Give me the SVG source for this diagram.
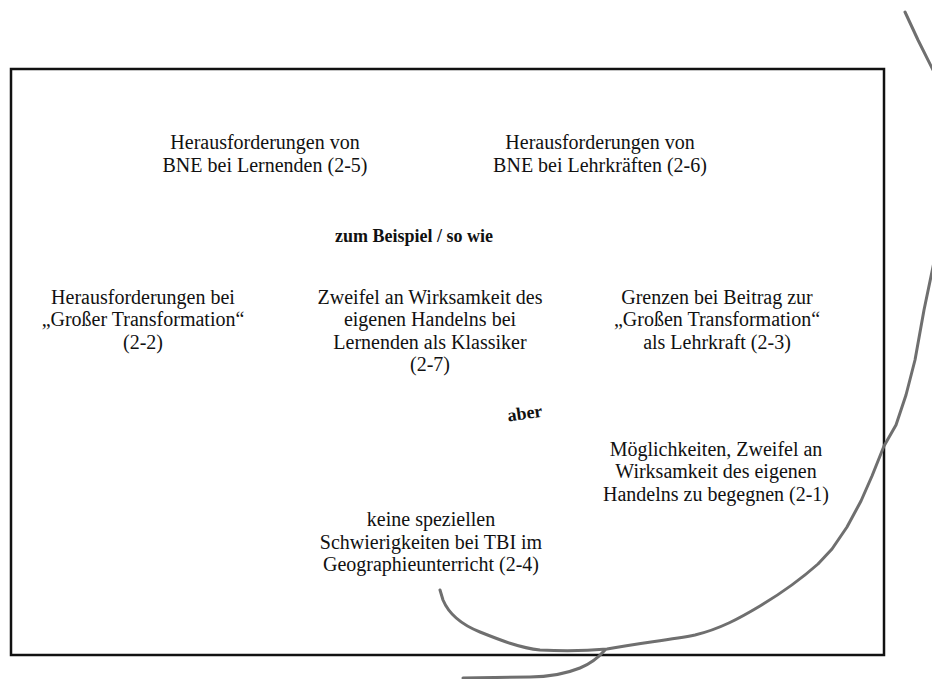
<svg xmlns="http://www.w3.org/2000/svg" width="932" height="679" viewBox="0 0 932 679">
  <style>
    .lbl { font-family: "Liberation Serif", "Times New Roman", serif; font-size: 20px; fill: #111; text-anchor: middle; }
    .rel { font-family: "Liberation Serif", "Times New Roman", serif; font-size: 18px; font-weight: bold; fill: #111; text-anchor: middle; }
    .ink { fill: none; stroke: #6f6f6f; stroke-width: 3; stroke-linecap: round; stroke-linejoin: round; }
  </style>
  <rect width="932" height="679" fill="#ffffff"/>
  <!-- frame -->
  <rect x="11" y="69" width="873" height="586" fill="none" stroke="#111" stroke-width="2.5"/>

  <g id="n2-5"><text class="lbl" x="265" y="149">Herausforderungen von</text><text class="lbl" x="265" y="172">BNE bei Lernenden (2-5)</text></g>
  <g id="n2-6"><text class="lbl" x="600" y="149">Herausforderungen von</text><text class="lbl" x="600" y="172">BNE bei Lehrkräften (2-6)</text></g>
  <g id="rel-bsp"><text class="rel" x="414" y="242">zum Beispiel / so wie</text></g>
  <g id="n2-2"><text class="lbl" x="143" y="304">Herausforderungen bei</text><text class="lbl" x="143" y="326">„Großer Transformation“</text><text class="lbl" x="143" y="349">(2-2)</text></g>
  <g id="n2-7"><text class="lbl" x="430" y="304">Zweifel an Wirksamkeit des</text><text class="lbl" x="430" y="326">eigenen Handelns bei</text><text class="lbl" x="430" y="349">Lernenden als Klassiker</text><text class="lbl" x="430" y="371">(2-7)</text></g>
  <g id="n2-3"><text class="lbl" x="717" y="304">Grenzen bei Beitrag zur</text><text class="lbl" x="717" y="326">„Großen Transformation“</text><text class="lbl" x="717" y="349">als Lehrkraft (2-3)</text></g>
  <g id="rel-aber"><text class="rel" x="525" y="419" transform="rotate(-8 525 414)">aber</text></g>
  <g id="n2-1"><text class="lbl" x="716" y="456">Möglichkeiten, Zweifel an</text><text class="lbl" x="716" y="478">Wirksamkeit des eigenen</text><text class="lbl" x="716" y="501">Handelns zu begegnen (2-1)</text></g>
  <g id="n2-4"><text class="lbl" x="431" y="526">keine speziellen</text><text class="lbl" x="431" y="549">Schwierigkeiten bei TBI im</text><text class="lbl" x="431" y="571">Geographieunterricht (2-4)</text></g>

  <g id="connectors">
    <path class="ink" d="M905,12 L918,40 L934,72 Q950,160 934,262 L924,310 L915,360 L906,395 L896,425 L884,446 L872,476 L861,501 L847,527 L832,549 L818,564 C800,580 780,594 760,606 C740,618 720,629 695,635 C670,640 640,643 607,649 C585,651 560,651 540,650 C520,648 500,640 480,632 C460,624 448,612 443,600 L440,590"/>
    <path class="ink" d="M605,650 C598,658 590,664 580,668 C565,674 548,677 530,677 L463,678"/>
  </g>
</svg>
